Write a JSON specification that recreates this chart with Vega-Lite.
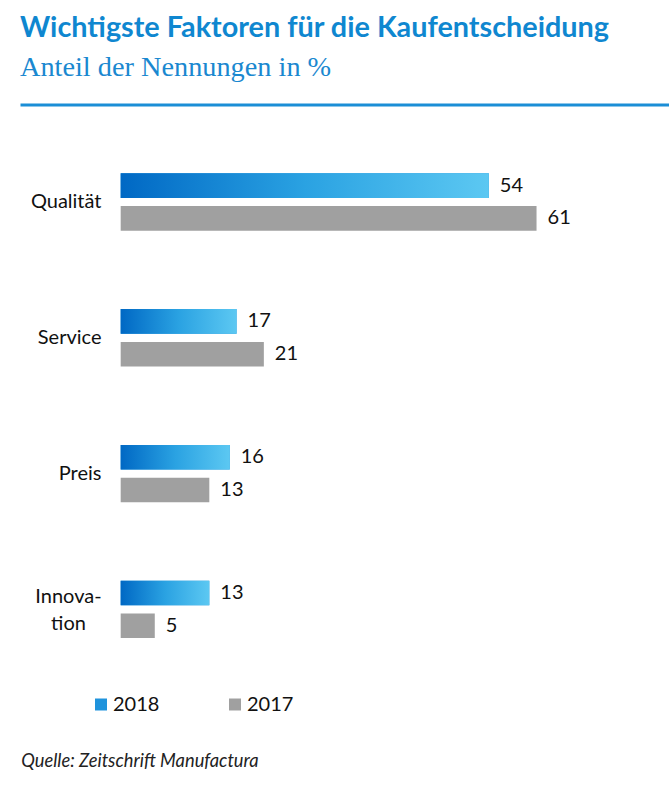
{
  "$schema": "https://vega.github.io/schema/vega-lite/v6.json",
  "width": 649,
  "height": 602.4,
  "autosize": "none",
  "padding": {"left": 20, "top": 104.5, "right": 0, "bottom": 78.1},
  "background": "white",
  "title": {
    "text": "Wichtigste Faktoren für die Kaufentscheidung",
    "subtitle": "Anteil der Nennungen in %",
    "anchor": "start",
    "frame": "group",
    "font": "Lato",
    "fontSize": 28.8,
    "fontWeight": "bold",
    "color": "#0f87d0",
    "subtitleFont": "Liberation Serif",
    "subtitleFontSize": 28.3,
    "subtitleColor": "#1a88d0",
    "offset": 23.5,
    "subtitlePadding": 11
  },
  "data": {
    "values": [
      {"faktor": "Qualität", "jahr": "2018", "wert": 54},
      {"faktor": "Qualität", "jahr": "2017", "wert": 61},
      {"faktor": "Service", "jahr": "2018", "wert": 17},
      {"faktor": "Service", "jahr": "2017", "wert": 21},
      {"faktor": "Preis", "jahr": "2018", "wert": 16},
      {"faktor": "Preis", "jahr": "2017", "wert": 13},
      {"faktor": "Innovation", "jahr": "2018", "wert": 13},
      {"faktor": "Innovation", "jahr": "2017", "wert": 5}
    ]
  },
  "encoding": {
    "y": {
      "field": "faktor",
      "type": "nominal",
      "sort": ["Qualität", "Service", "Preis", "Innovation"],
      "scale": {"paddingInner": 0, "paddingOuter": 0.218},
      "axis": {
        "title": "Quelle: Zeitschrift Manufactura",
        "titleAngle": 0,
        "titleAlign": "left",
        "titleBaseline": "alphabetic",
        "titleX": 0.7,
        "titleY": 662,
        "titleFont": "Lato",
        "titleFontStyle": "italic",
        "titleFontWeight": "normal",
        "titleFontSize": 18.3,
        "titleColor": "#222222",
        "domain": false,
        "ticks": false,
        "tickSize": 0,
        "grid": false,
        "labelPadding": {"condition": {"test": "datum.value == 'Innovation'", "value": -48}, "value": -81},
        "labelAlign": {"condition": {"test": "datum.value == 'Innovation'", "value": "center"}, "value": "right"},
        "labelOffset": {"condition": {"test": "datum.value == 'Innovation'", "value": -12.5}, "value": 0},
        "labelFont": "Lato",
        "labelFontSize": 20,
        "labelColor": "#111111",
        "labelLineHeight": 27,
        "labelExpr": "datum.value == 'Innovation' ? ['Innova-', 'tion'] : datum.value"
      }
    },
    "yOffset": {
      "field": "jahr",
      "type": "nominal",
      "sort": ["2018", "2017"],
      "scale": {"paddingInner": 0.25, "paddingOuter": 0, "range": [39.2, 96.6]}
    },
    "x": {
      "field": "wert",
      "type": "quantitative",
      "scale": {"domain": [-14.77, 80.43], "zero": false, "nice": false},
      "axis": {
        "orient": "top",
        "title": null,
        "labels": false,
        "ticks": false,
        "grid": false,
        "domain": true,
        "domainColor": "#1b8ed6",
        "domainWidth": 3
      }
    }
  },
  "layer": [
    {
      "mark": {"type": "bar"},
      "encoding": {
        "color": {
          "field": "jahr",
          "type": "nominal",
          "scale": {"domain": ["2018", "2017"], "range": ["#1f93dc", "#a0a0a0"]},
          "legend": {
            "title": null,
            "orient": "none",
            "legendX": 71,
            "legendY": 590,
            "direction": "horizontal",
            "symbolType": "square",
            "symbolSize": 144,
            "symbolStrokeWidth": 0,
            "labelFont": "Lato",
            "labelFontSize": 20,
            "labelColor": "#111111",
            "labelOffset": 2,
            "columnPadding": 65,
            "encode": {
              "symbols": {
                "update": {
                  "fill": [
                    {
                      "test": "datum.value === '2018'",
                      "value": {
                        "gradient": "linear",
                        "x1": 0, "y1": 1, "x2": 1, "y2": 0,
                        "stops": [
                          {"offset": 0, "color": "#0068c4"},
                          {"offset": 1, "color": "#5cc6f0"}
                        ]
                      }
                    },
                    {"value": "#a0a0a0"}
                  ]
                }
              }
            }
          }
        }
      }
    },
    {
      "transform": [{"filter": "datum.jahr == '2018'"}],
      "mark": {
        "type": "bar",
        "color": {
          "gradient": "linear",
          "x1": 0, "y1": 0, "x2": 1, "y2": 0,
          "stops": [
            {"offset": 0, "color": "#0068c4"},
            {"offset": 0.5, "color": "#2aa2e2"},
            {"offset": 1, "color": "#5cc8f2"}
          ]
        }
      }
    },
    {
      "mark": {
        "type": "text",
        "align": "left",
        "baseline": "middle",
        "dx": 11,
        "font": "Lato",
        "fontSize": 20,
        "color": "#111111"
      },
      "encoding": {
        "text": {"field": "wert", "type": "quantitative"}
      }
    }
  ],
  "config": {
    "view": {"stroke": null}
  }
}
